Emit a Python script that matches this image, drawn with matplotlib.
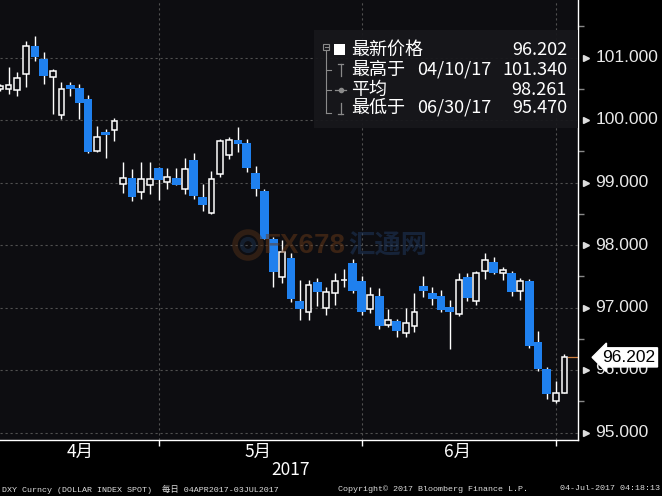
import matplotlib
matplotlib.use('Agg')
import matplotlib.pyplot as plt
from matplotlib.patches import Rectangle, Circle

# DXY daily OHLC, 04APR2017 - 03JUL2017
opens = [100.496, 100.491, 100.475, 100.731, 101.184, 100.981, 100.683, 100.085, 100.560, 100.512,
         100.336, 99.504, 99.808, 99.835, 98.971, 99.067, 98.843, 98.955, 99.232, 99.008,
         99.072, 98.901, 99.360, 98.768, 98.517, 99.131, 99.435, 99.680, 99.632, 99.152,
         98.869, 98.101, 97.483, 97.792, 97.104, 96.933, 97.408, 96.987, 97.227, 97.435,
         97.717, 97.424, 96.971, 97.184, 96.715, 96.784, 96.587, 96.704, 97.344, 97.237,
         97.184, 97.013, 96.896, 97.493, 97.109, 97.589, 97.728, 97.547, 97.557, 97.259,
         97.429, 96.443, 96.021, 95.509, 95.637]
highs = [100.576, 100.853, 100.773, 101.269, 101.340, 101.083, 100.816, 100.613, 100.603, 100.571,
         100.400, 99.909, 99.851, 100.032, 99.328, 99.211, 99.328, 99.328, 99.253, 99.227,
         99.227, 99.387, 99.467, 98.976, 99.184, 99.691, 99.723, 99.893, 99.691, 99.264,
         98.901, 98.133, 98.080, 97.867, 97.440, 97.440, 97.477, 97.333, 97.557, 97.611,
         97.776, 97.504, 97.323, 97.307, 96.971, 96.821, 96.987, 97.227, 97.504, 97.333,
         97.280, 97.120, 97.557, 97.557, 97.589, 97.867, 97.813, 97.653, 97.589, 97.477,
         97.456, 96.629, 96.053, 95.829, 96.251]
lows = [100.464, 100.416, 100.389, 100.533, 100.949, 100.576, 100.096, 100.021, 100.384, 100.011,
        99.477, 99.493, 99.387, 99.669, 98.837, 98.709, 98.741, 98.811, 98.720, 98.896,
        98.955, 98.821, 98.731, 98.549, 98.496, 99.093, 99.381, 99.493, 99.173, 98.789,
        98.091, 97.333, 97.387, 97.083, 96.800, 96.800, 97.029, 96.880, 97.040, 97.333,
        97.227, 96.880, 96.917, 96.656, 96.693, 96.523, 96.523, 96.603, 97.163, 97.040,
        96.933, 96.331, 96.864, 97.109, 97.040, 97.451, 97.531, 97.440, 97.189, 97.120,
        96.357, 95.984, 95.541, 95.470, 95.637]
closes = [100.544, 100.555, 100.672, 101.179, 101.013, 100.709, 100.779, 100.491, 100.501, 100.277,
          99.493, 99.733, 99.765, 99.979, 99.077, 98.773, 99.051, 99.061, 99.045, 99.083,
          98.965, 99.211, 98.789, 98.645, 99.051, 99.659, 99.675, 99.621, 99.237, 98.896,
          98.101, 97.573, 97.888, 97.136, 96.976, 97.355, 97.243, 97.243, 97.429, 97.445,
          97.269, 96.923, 97.195, 96.709, 96.795, 96.629, 96.747, 96.928, 97.269, 97.131,
          96.960, 96.933, 97.435, 97.147, 97.552, 97.760, 97.557, 97.595, 97.253, 97.419,
          96.384, 96.011, 95.616, 95.627, 96.202]

month_labels = ['4月', '5月', '6月']
month_label_x = [9.1, 29.3, 51.9]
month_end_idx = [18, 41, 63]
price_ticks = [95, 96, 97, 98, 99, 100, 101]

legend_names = ['最新价格', '最高于', '平均', '最低于']
legend_dates = ['', '04/10/17', '', '06/30/17']
legend_values = ['96.202', '101.340', '98.261', '95.470']

cjk = ['Noto Sans CJK SC', 'DejaVu Sans']
bg = '#0d0d11'
blue = '#1f80ee'

fig = plt.figure(figsize=(6.62, 4.96), dpi=100, facecolor='black')
ax = fig.add_axes([0, 56 / 496, 578 / 662, 440 / 496])
ax.set_facecolor(bg)

# candles
for i, (o, h, l, c) in enumerate(zip(opens, highs, lows, closes)):
    ax.vlines(i, l, h, color='white', lw=1, zorder=2)
    if c < o:
        ax.add_patch(Rectangle((i - 0.5, c), 1.0, o - c, fc=blue, ec='none', zorder=3))
    else:
        ax.add_patch(Rectangle((i - 0.33, o), 0.66, max(c - o, 0.008),
                               fc=bg, ec='white', lw=1.1, zorder=3))

ax.set_xlim(0.034, 65.53)
ax.set_ylim(94.88, 101.92)

# last price line
ax.plot([64.35, 65.53], [closes[-1]] * 2, color='#d08040', lw=0.9, zorder=2)

# grid
for v in price_ticks:
    ax.axhline(v, color='#505050', lw=0.8, ls=(0, (2, 2.5)), zorder=1)
for i in month_end_idx:
    ax.axvline(i, color='#505050', lw=0.8, ls=(0, (2, 2.5)), zorder=1)

for s in ['top', 'left']:
    ax.spines[s].set_visible(False)
for s in ['right', 'bottom']:
    ax.spines[s].set_color('white')
    ax.spines[s].set_linewidth(1)

ax.set_xticks(month_end_idx)
ax.set_xticklabels([])
ax.tick_params(axis='x', direction='out', length=4, color='white', width=1)

ax.yaxis.tick_right()
ax.set_yticks(price_ticks)
ax.set_yticklabels([])
ax.set_yticks([v + 0.5 for v in price_ticks], minor=True)
ax.tick_params(axis='y', which='major', length=0)
ax.tick_params(axis='y', which='minor', direction='out', length=4, color='#888888', width=1)

ytr = ax.get_yaxis_transform()
for v in price_ticks:
    ax.plot([1.0135], [v], marker='>', ms=5, color='#dddddd', transform=ytr, clip_on=False)
    ax.text(1.03, v, f'{v:.3f}', transform=ytr, ha='left', va='center', fontsize=12.5,
            color='#e8e8e8', family='Liberation Sans', clip_on=False)

ax.text(1.042, closes[-1], f'{closes[-1]:.3f}', transform=ytr, ha='left', va='center',
        fontsize=12.5, color='black', family='Liberation Sans', zorder=10, clip_on=False,
        bbox=dict(boxstyle='larrow,pad=0.12', fc='white', ec='white'))

# month labels
xtr = ax.get_xaxis_transform()
for x, lab in zip(month_label_x, month_labels):
    ax.text(x, -12 / 440, lab, transform=xtr, ha='center', va='center', fontsize=12.5,
            color='white', family=cjk)

# overlay in pixel coordinates for the decorations
ov = fig.add_axes([0, 0, 1, 1], zorder=5)
ov.set_xlim(0, 662)
ov.set_ylim(496, 0)
ov.axis('off')

ov.text(291, 470, '2017', ha='center', va='center', fontsize=12.5, color='white', family=cjk)

mono = ['Liberation Mono', 'Noto Sans CJK SC']
ov.text(2, 489, 'DXY Curncy (DOLLAR INDEX SPOT)  每日 04APR2017-03JUL2017', ha='left', va='center',
        fontsize=6, color='#dddddd', family=mono)
ov.text(338, 489, 'Copyright© 2017 Bloomberg Finance L.P.', ha='left', va='center',
        fontsize=6, color='#dddddd', family=mono)
ov.text(660, 489, '04-Jul-2017 04:18:13', ha='right', va='center',
        fontsize=6, color='#dddddd', family=mono)

# watermark (faint)
ov.add_patch(Circle((248, 245), 13, fill=False, ec='#5a3418', lw=4, alpha=0.45))
ov.add_patch(Circle((248, 245), 6, fill=False, ec='#1e3655', lw=3, alpha=0.45))
ov.text(263, 246, 'FX678', ha='left', va='center', fontsize=20, fontweight='bold',
        color='#6a3a18', alpha=0.5, family='Liberation Sans')
ov.text(348, 246, '汇通网', ha='left', va='center', fontsize=19, fontweight='bold',
        color='#23406a', alpha=0.45, family=cjk)

# legend box
ov.add_patch(Rectangle((314, 30), 264, 98, fc='#17171b', ec='none', alpha=0.92))
gray = '#8a8a8a'
ov.add_patch(Rectangle((323, 44), 6, 6, fill=False, ec=gray, lw=0.8))
ov.plot([324.5, 327.5], [47, 47], color=gray, lw=0.8)
ov.plot([326, 326], [50, 113], color=gray, lw=0.8)
for y in [70, 90, 113]:
    ov.plot([326, 331], [y, y], color=gray, lw=0.8)
ov.add_patch(Rectangle((334, 44), 11, 11, fc='white', ec='none'))
ov.plot([338, 343], [64, 64], color=gray, lw=0.9)
ov.plot([340.5, 340.5], [64, 76], color=gray, lw=0.9)
ov.plot([335, 346], [90, 90], color=gray, lw=0.9)
ov.plot([340.5], [90], marker='o', ms=3, color=gray)
ov.plot([340.5, 340.5], [103, 114], color=gray, lw=0.9)
ov.plot([338, 343], [114, 114], color=gray, lw=0.9)

rows_y = [50, 70, 90, 108]
for y, name, date, val in zip(rows_y, legend_names, legend_dates, legend_values):
    ov.text(351, y, name, ha='left', va='center', fontsize=13, color='white', family=cjk)
    if date:
        ov.text(417, y, date, ha='left', va='center', fontsize=13, color='white', family=cjk)
    ov.text(567, y, val, ha='right', va='center', fontsize=13, color='white', family=cjk)

fig.savefig('out.png', dpi=100, facecolor='black')
